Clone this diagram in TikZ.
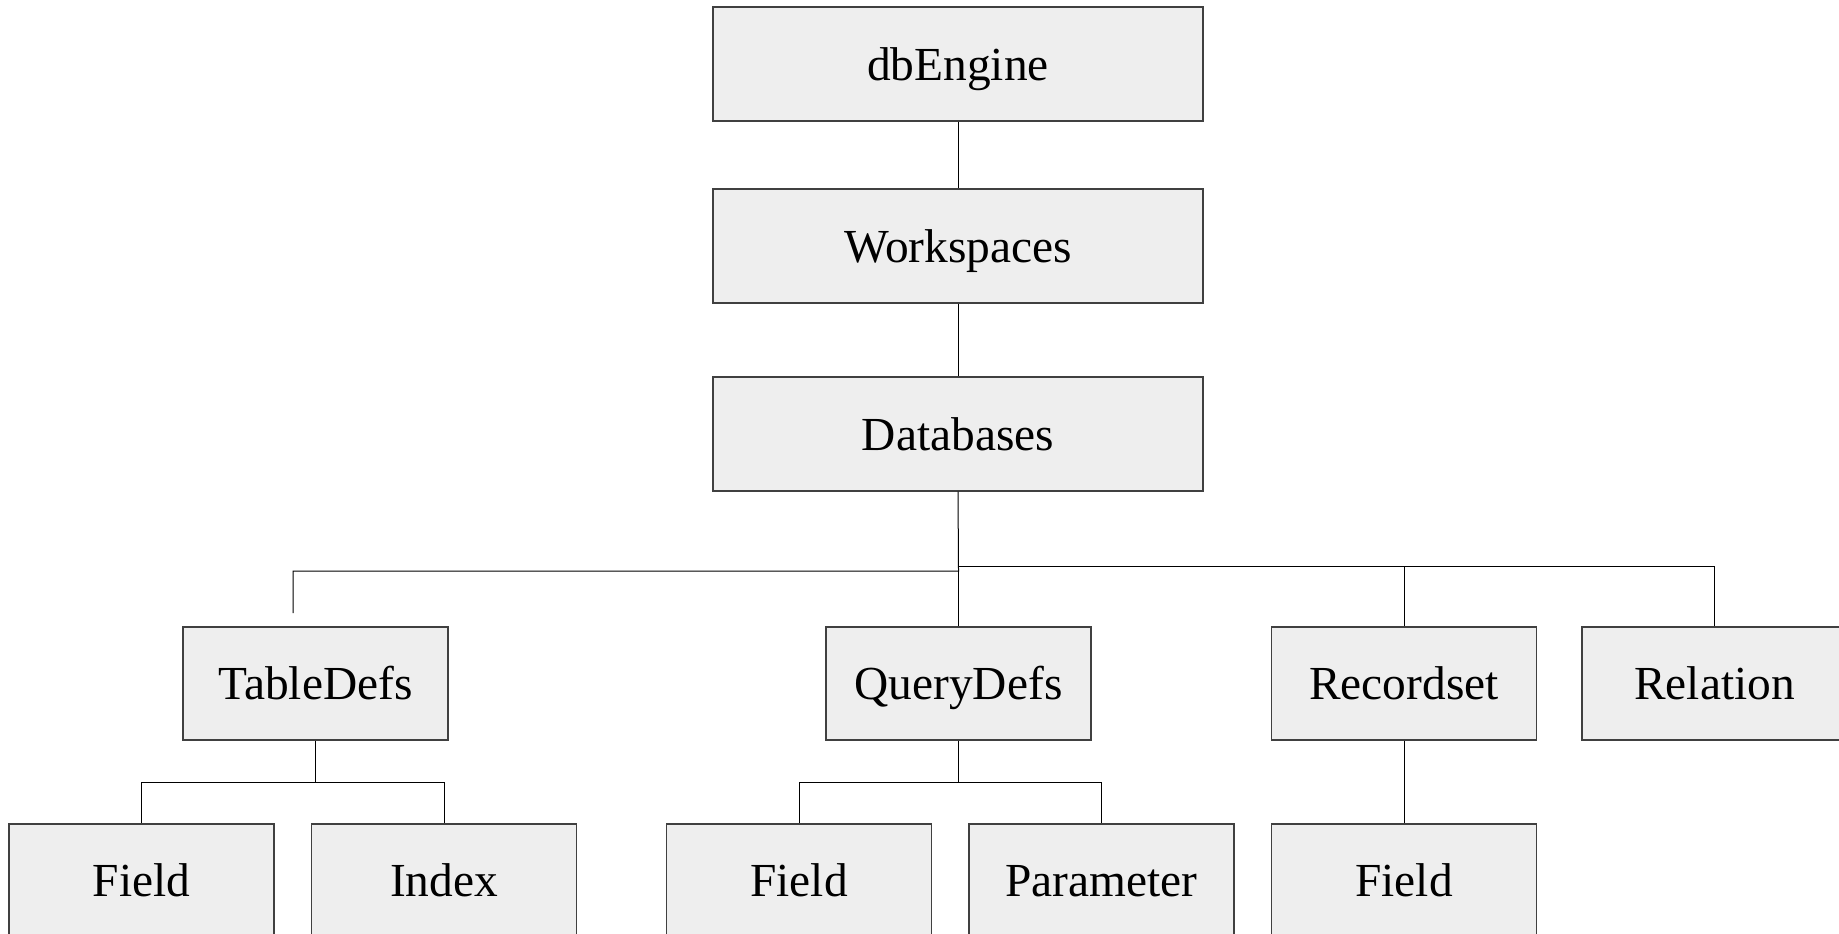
\documentclass[tikz,border=0pt]{standalone}
\usepackage{fontspec}
\setmainfont{Liberation Serif}
\definecolor{boxfill}{HTML}{EEEEEE}
\definecolor{boxline}{HTML}{404040}
\tikzset{
  obj/.style={draw=boxline, fill=boxfill, line width=0.6pt, rectangle,
    minimum width=132.5pt, minimum height=56.5pt, inner sep=0pt,
    text height=16pt, text depth=0pt,
    font=\fontsize{23.7pt}{28pt}\selectfont},
  wide/.style={minimum width=245pt, minimum height=57pt},
  link/.style={draw=black, line width=0.5pt}
}
\begin{document}
\begin{tikzpicture}[x=0.5pt,y=-0.5pt]
\useasboundingbox (0,0) rectangle (1839,933);
\clip (0,0) rectangle (1839,933);
% top chain
\node[obj,wide] (eng) at (958,64) {dbEngine};
\node[obj,wide] (ws) at (958,246) {Workspaces};
\node[obj,wide] (db) at (958,434) {Databases};
% second row
\node[obj] (td) at (315.5,683.5) {TableDefs};
\node[obj] (qd) at (958.5,683.5) {QueryDefs};
\node[obj] (rs) at (1404,683.5) {Recordset};
\node[obj] (rel) at (1714.5,683.5) {Relation};
% third row
\node[obj] (f1) at (141.5,880.5) {Field};
\node[obj] (ix) at (444,880.5) {Index};
\node[obj] (f2) at (799,880.5) {Field};
\node[obj] (pm) at (1101.5,880.5) {Parameter};
\node[obj] (f3) at (1404,880.5) {Field};
% junction coordinates
\coordinate (jr) at (958.5,566);
\coordinate (jrs) at (1404,566);
\coordinate (jrel) at (1714.5,566);
\coordinate (jl) at (958.5,571);
\coordinate (jll) at (293,571);
\coordinate (jlend) at (293,613);
\coordinate (tdj) at (315.5,782);
\coordinate (tdl) at (141.5,782);
\coordinate (tdr) at (444,782);
\coordinate (qdj) at (958.5,782);
\coordinate (qdl) at (799,782);
\coordinate (qdr) at (1101.5,782);
% connectors
\draw[link] (eng.south) -- (ws.north);
\draw[link] (ws.south) -- (db.north);
\draw[link] (db.south) -- (jl) -- (jll) -- (jlend);
\draw[link] (jr) -- (jrel) -- (rel.north);
\draw[link] (jr) -- (qd.north);
\draw[link] (jrs) -- (rs.north);
\draw[link] (td.south) -- (tdj);
\draw[link] (tdl) -- (tdr);
\draw[link] (tdl) -- (f1.north);
\draw[link] (tdr) -- (ix.north);
\draw[link] (qd.south) -- (qdj);
\draw[link] (qdl) -- (qdr);
\draw[link] (qdl) -- (f2.north);
\draw[link] (qdr) -- (pm.north);
\draw[link] (rs.south) -- (f3.north);
\end{tikzpicture}
\end{document}
